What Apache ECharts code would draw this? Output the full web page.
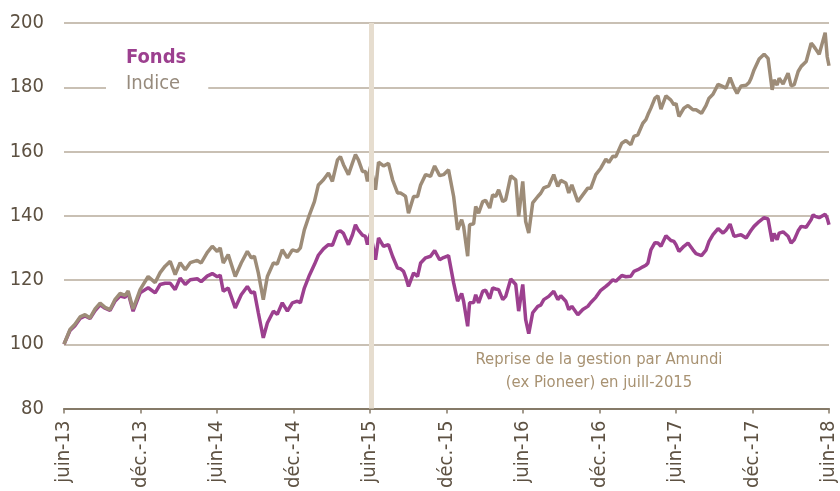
<!DOCTYPE html>
<html>
<head>
<meta charset="utf-8">
<script src="https://cdn.jsdelivr.net/npm/echarts@6/dist/echarts.min.js"></script>
<style>
html,body{margin:0;padding:0;background:#fff;}
#chart{width:840px;height:491px;}
</style>
</head>
<body>
<div id="chart"></div>
<script>
// x positions in months since juin-13
var months = [
0,0.47,0.86,1.26,1.65,2.04,2.44,2.83,3.22,3.61,
4.01,4.40,4.79,5.03,5.42,5.97,6.60,7.15,7.54,7.93,
8.33,8.72,9.11,9.51,9.90,10.45,10.76,11.23,11.63,12.02,
12.25,12.49,12.88,13.43,13.90,14.38,14.69,14.93,15.24,15.63,
15.95,16.42,16.73,17.12,17.52,17.91,18.30,18.54,18.85,19.25,
19.64,19.95,20.35,20.74,21.05,21.45,21.68,21.92,22.31,22.62,
22.86,23.09,23.41,23.64,23.80,24.04,24.43,24.67,25.06,25.45,
25.77,26.16,26.39,26.63,26.79,27.02,27.42,27.73,27.97,28.36,
28.75,29.07,29.46,29.77,30.16,30.56,30.87,31.19,31.34,31.66,
31.81,32.13,32.29,32.52,32.84,33.07,33.39,33.62,33.86,34.09,
34.41,34.64,35.04,35.43,35.66,35.98,36.21,36.45,36.76,37.16,
37.39,37.63,38.02,38.41,38.73,38.96,39.36,39.59,39.83,40.30,
40.69,41.08,41.32,41.71,42.10,42.50,42.73,43.05,43.28,43.75,
44.07,44.46,44.70,45.01,45.40,45.64,45.80,46.03,46.35,46.58,
46.82,47.21,47.60,47.84,48.00,48.23,48.62,48.94,49.33,49.57,
50.00,50.35,50.59,50.90,51.30,51.69,51.92,52.24,52.55,52.79,
53.10,53.50,53.73,53.89,54.12,54.52,54.91,55.22,55.54,55.69,
55.93,56.09,56.40,56.79,57.03,57.27,57.58,57.82,58.21,58.60,
58.76,58.92,59.23,59.70,59.86,60
];
var fonds = [
100,104.3,105.8,108,108.8,108,110.5,112.3,111.2,110.5,
113.5,115,114.6,116,110.3,116,117.6,116,118.6,119,
119,117,120.6,118.6,120.1,120.4,119.5,121.2,122,121,
121.5,116.5,117.5,111.3,115.4,118,116,116.3,109.8,102,
106.6,110.3,109.3,112.9,110.3,112.9,113.4,112.9,117.5,121.5,
124.8,127.7,129.7,131,130.8,135,135.3,134.5,131,134,
137.2,135.5,134,133.6,131,134.6,126.3,133.1,130.5,131,
127.4,123.7,123.5,122.7,121,118,122.2,121.1,125.3,126.9,
127.4,129.2,126.3,127,127.6,119.1,113.4,115.8,113.4,105.6,
112.9,113,115.4,112.9,116.5,116.8,114.2,117.5,117.2,117,
113.9,114.9,120.3,118.6,110.3,118.6,107.7,103.3,109.8,111.8,
112.2,113.9,114.9,116.5,113.9,115.1,113.4,110.8,111.8,109.2,
110.8,111.8,113,114.6,116.8,118,118.8,120.1,119.6,121.4,
121,121.2,122.7,123.2,124.1,124.6,125.3,129.4,131.6,131.5,
130.5,133.8,132.3,132,131,128.9,130.5,131.5,129.4,128.2,
127.6,129.3,132,134.1,136,134.6,135.5,137.4,133.6,133.8,
134.1,133.1,134.5,135.5,136.7,138.2,139.4,139,132,134.5,
132.5,134.6,135,133.6,131.5,132.5,135.3,136.7,136.4,138.8,
140.3,139.8,139.4,140.5,139.2,137.2
];
var indice = [
100,104.6,106.2,108.5,109.2,108.2,111,112.8,111.5,110.8,
114,115.8,115.2,116.6,111,117,121.1,119.2,122.3,124.3,
125.8,121.7,125.4,123.2,125.4,126.1,125.3,128.5,130.5,128.9,
130,125.3,127.9,121.1,125.3,128.9,126.9,127.4,122.2,113.9,
121.1,125.3,125,129.4,126.9,129.4,128.9,130,135.6,140.3,
144.4,149.6,151.2,153.3,150.7,157.4,158.4,155.9,152.8,156.4,
159,157.4,153.8,153.8,150.7,155.3,148.1,156.7,155.5,156.3,
151.2,147.1,147.1,146.5,146,140.8,146,146,149.6,152.8,
152.3,155.5,152.5,152.8,154.3,146,135.6,138.8,136.7,127.4,
137.2,137.5,142.9,140.8,144.4,144.8,142.4,146.5,146,148.1,
144.4,145,152.4,151.2,139.8,150.7,138.2,134.6,144,146,
147,148.7,149.3,152.8,149.1,151,150.2,147.1,149.6,144.4,
146.5,148.6,148.6,152.8,154.8,157.6,156.6,158.5,158.4,162.6,
163.4,162.1,164.7,165.2,168.8,169.9,171.5,173.5,176.6,177.3,
173.2,177.3,176,174.5,175,170.9,173.5,174.3,173,173,
171.9,174.3,176.6,177.8,180.9,180.2,179.7,183,179.9,178.1,
180.4,180.6,181.5,182.8,185.4,188.8,190.3,189,179.2,182.3,
180.7,182.8,181,184.4,180.4,180.8,184.9,186.5,188,193.7,
193,192.1,190.3,197,189.5,186.7
];
var tickLabels = ['juin-13','déc.-13','juin-14','déc.-14','juin-15','déc.-15','juin-16','déc.-16','juin-17','déc.-17','juin-18'];
var seriesNames = ['Fonds','Indice'];
var changeMonth = 24.1; // juill-2015
var noteText = 'Reprise de la gestion par Amundi\n(ex Pioneer) en juill-2015';

var FONT = '"DejaVu Sans Condensed", "DejaVu Sans", sans-serif';
var PURPLE = '#9c408f';
var TAUPE = '#9d8c78';

function pairs(ys) {
  var out = [];
  for (var i = 0; i < months.length; i++) out.push([months[i], ys[i]]);
  return out;
}

var chart = echarts.init(document.getElementById('chart'), null, {renderer: 'canvas'});
chart.setOption({
  animation: false,
  backgroundColor: '#ffffff',
  grid: {left: 64, right: 11, top: 23, bottom: 82, containLabel: false},
  legend: {
    show: true,
    orient: 'vertical',
    left: 106,
    top: 44,
    icon: 'none',
    itemWidth: 0,
    itemHeight: 20,
    itemGap: 6,
    padding: [4, 22, 4, 15],
    backgroundColor: '#ffffff',
    selectedMode: false,
    data: [
      {name: seriesNames[0], textStyle: {color: PURPLE, fontWeight: 'bold'}},
      {name: seriesNames[1], textStyle: {color: '#978b7d', fontWeight: 'normal'}}
    ],
    textStyle: {fontFamily: FONT, fontSize: 20, lineHeight: 20}
  },
  xAxis: {
    type: 'value',
    min: 0, max: 60, interval: 6,
    axisLine: {show: true, lineStyle: {color: '#857a68', width: 2}},
    axisTick: {show: true, length: 5, lineStyle: {color: '#857a68', width: 1.5}},
    splitLine: {show: false},
    axisLabel: {
      rotate: 90,
      margin: 12,
      fontFamily: FONT,
      fontSize: 20,
      color: '#5d5142',
      formatter: function (v) { return tickLabels[Math.round(v / 6)] || ''; }
    }
  },
  yAxis: {
    type: 'value',
    min: 80, max: 200, interval: 20,
    axisLine: {show: false},
    axisTick: {show: false},
    splitLine: {show: true, lineStyle: {color: '#c9c0b4', width: 2}},
    axisLabel: {margin: 20, fontFamily: FONT, fontSize: 20, color: '#5d5142'}
  },
  series: [
    {
      name: seriesNames[0], type: 'line', data: pairs(fonds),
      showSymbol: false, symbol: 'none', z: 2,
      lineStyle: {color: PURPLE, width: 3.5}, itemStyle: {color: PURPLE}
    },
    {
      name: seriesNames[1], type: 'line', data: pairs(indice),
      showSymbol: false, symbol: 'none', z: 3,
      lineStyle: {color: TAUPE, width: 3.5}, itemStyle: {color: TAUPE}
    },
    {
      name: 'marker', type: 'line', data: [], z: 10, silent: true,
      markLine: {
        silent: true, symbol: ['none', 'none'], label: {show: false},
        lineStyle: {color: '#e6ddcf', width: 5, type: 'solid'},
        emphasis: {disabled: true},
        data: [{xAxis: changeMonth}]
      }
    }
  ],
  graphic: [{
    type: 'text',
    x: 599, y: 371,
    style: {
      text: noteText,
      fill: '#a89272',
      font: '16.5px ' + FONT,
      align: 'center',
      verticalAlign: 'middle',
      lineHeight: 23
    },
    z: 20
  }]
});
</script>
</body>
</html>
